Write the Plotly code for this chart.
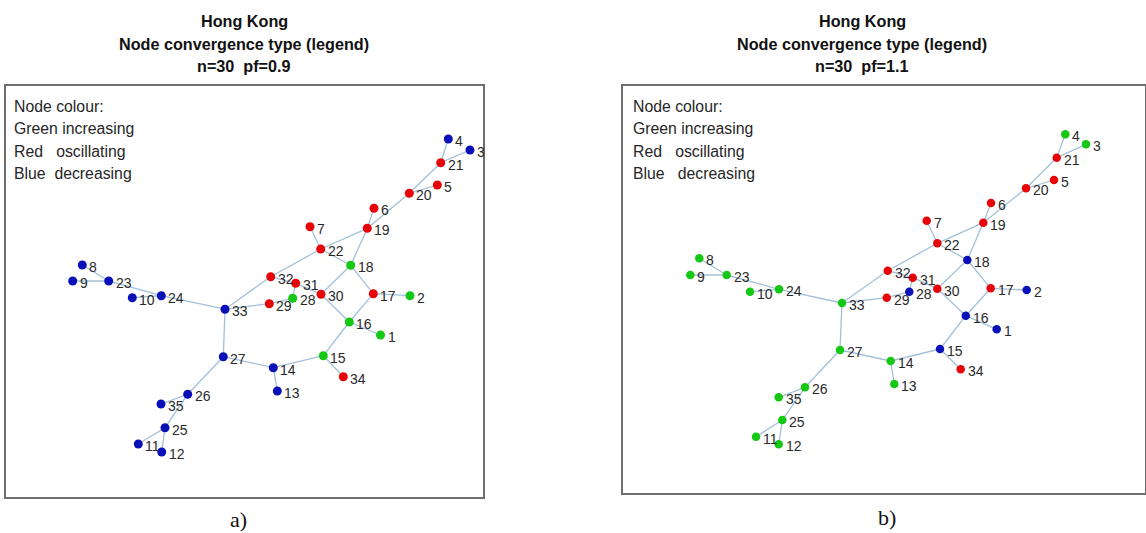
import plotly.graph_objects as go

W, H = 1146, 533

# ---- data ----
node_ids = [1, 2, 3, 4, 5, 6, 7, 8, 9, 10, 11, 12, 13, 14, 15, 16, 17, 18,
            19, 20, 21, 22, 23, 24, 25, 26, 27, 28, 29, 30, 31, 32, 33, 34, 35]

# node layout positions, panel a (pf=0.9)
pos_a_x = [380.5, 410, 470, 448.3, 437.3, 374, 310, 82.3, 72.7, 132.3, 138.3, 161.7,
           277.3, 273.3, 323.3, 349.3, 373.3, 350.7, 367.3, 409.3, 440.7, 320.7,
           108.7, 161.3, 165, 187.7, 223.3, 292.7, 269.3, 321, 295.7, 270.7, 225,
           343.3, 161]
pos_a_y = [335, 295.7, 150, 139, 185, 208.3, 226.7, 265, 281, 297.7, 444, 452,
           391, 367.7, 355.7, 322, 293.7, 265.3, 228.3, 193.3, 162.7, 249,
           281, 295.7, 427.7, 394.3, 356.7, 298.3, 303.7, 294.3, 283.3, 276.7, 309.2,
           376.7, 404]

# node layout positions, panel b (pf=1.1)
pos_b_x = [996.7, 1026.7, 1086, 1065.3, 1054, 991, 926.7, 699.3, 690.3, 750, 756, 778.7,
           894.3, 890.7, 940, 965.8, 990.7, 967.3, 983.3, 1026, 1056.7, 937.3,
           726.7, 779, 782.3, 805, 840, 909.3, 886.7, 937.3, 912.7, 887.7, 842,
           960.7, 778.7]
pos_b_y = [329.3, 290, 144.3, 134.3, 180, 203, 220.7, 258.3, 275, 291.7, 436.7, 444.3,
           384, 361, 349, 315.7, 288.3, 260, 222.7, 188.3, 157.7, 243.3,
           275, 289.3, 420, 387.3, 350, 291.7, 297.7, 288.7, 277.7, 270.7, 303,
           369.3, 397.3]

edges = [(4, 21), (3, 21), (21, 20), (20, 5), (20, 19), (19, 6), (19, 22), (19, 18),
         (22, 7), (22, 32), (22, 18), (18, 17), (18, 30), (17, 2), (17, 16), (30, 16),
         (32, 31), (31, 28), (31, 30), (29, 28), (32, 33), (33, 29), (33, 24),
         (24, 10), (24, 23), (23, 8), (23, 9), (33, 27), (27, 14), (14, 13),
         (14, 15), (15, 16), (16, 1), (15, 34), (27, 26), (26, 35), (26, 25),
         (25, 11), (25, 12)]

# convergence type per node: I increasing, O oscillating, D decreasing
type_a = ['I', 'I', 'D', 'D', 'O', 'O', 'O', 'D', 'D', 'D', 'D', 'D', 'D', 'D', 'I', 'I',
          'O', 'I', 'O', 'O', 'O', 'O', 'D', 'D', 'D', 'D', 'D', 'I', 'O', 'O', 'O', 'O',
          'D', 'O', 'D']
type_b = ['D', 'D', 'I', 'I', 'O', 'O', 'O', 'I', 'I', 'I', 'I', 'I', 'I', 'I', 'D', 'D',
          'O', 'D', 'O', 'O', 'O', 'O', 'I', 'I', 'I', 'I', 'I', 'D', 'O', 'O', 'O', 'O',
          'I', 'O', 'I']

title_lines_a = ["Hong Kong", "Node convergence type (legend)", "n=30  pf=0.9"]
title_lines_b = ["Hong Kong", "Node convergence type (legend)", "n=30  pf=1.1"]
legend_lines_a = ["Node colour:", "Green increasing",
                  "Red\u00a0\u00a0 oscillating", "Blue\u00a0 decreasing"]
legend_lines_b = ["Node colour:", "Green increasing",
                  "Red\u00a0\u00a0 oscillating", "Blue\u00a0\u00a0 decreasing"]
panel_labels = ["a)", "b)"]

COLORS = {'I': '#14c814', 'O': '#e60408', 'D': '#0a10b8'}
EDGE_COLOR = '#a3c0da'
LABEL_FONT = "Arial, Liberation Sans, sans-serif"

fig = go.Figure()


def add_panel(px, py, types, xa, ya, msize):
    idx = {n: i for i, n in enumerate(node_ids)}
    ex, ey = [], []
    for a, b in edges:
        ex += [px[idx[a]], px[idx[b]], None]
        ey += [py[idx[a]], py[idx[b]], None]
    fig.add_trace(go.Scatter(x=ex, y=ey, mode='lines', xaxis=xa, yaxis=ya,
                             line=dict(color=EDGE_COLOR, width=1.3),
                             hoverinfo='skip', showlegend=False))
    for t in ['I', 'O', 'D']:
        xs = [px[i] for i in range(len(node_ids)) if types[i] == t]
        ys = [py[i] for i in range(len(node_ids)) if types[i] == t]
        fig.add_trace(go.Scatter(x=xs, y=ys, mode='markers', xaxis=xa, yaxis=ya,
                                 marker=dict(color=COLORS[t], size=msize, line=dict(width=0)),
                                 showlegend=False))
    for i, n in enumerate(node_ids):
        fig.add_annotation(x=px[i], y=py[i], xref=xa, yref=ya, text=str(n),
                           showarrow=False, xanchor='left', yanchor='middle',
                           xshift=5, yshift=-2,
                           font=dict(family=LABEL_FONT, size=14, color='#2a2a2a'))


add_panel(pos_a_x, pos_a_y, type_a, 'x', 'y', 9)
add_panel(pos_b_x, pos_b_y, type_b, 'x2', 'y2', 8.5)

# box frames (pixel-aligned axes)
ax_common = dict(showgrid=False, zeroline=False, showticklabels=False, ticks='',
                 showline=True, mirror=True, linecolor='#6e6e6e', linewidth=1.5)
fig.update_layout(
    width=W, height=H, autosize=False,
    margin=dict(l=0, r=0, t=0, b=0),
    paper_bgcolor='white', plot_bgcolor='white',
    xaxis=dict(domain=[6 / W, 483 / W], range=[6, 483], **ax_common),
    yaxis=dict(domain=[1 - 497 / H, 1 - 86 / H], range=[497, 86], **ax_common),
    xaxis2=dict(domain=[623 / W, 1145 / W], range=[623, 1145], anchor='y2', **ax_common),
    yaxis2=dict(domain=[1 - 493 / H, 1 - 86 / H], range=[493, 86], anchor='x2', **ax_common),
)

# titles
for cx, lines in [(244, title_lines_a), (862, title_lines_b)]:
    for k, (line, ty) in enumerate(zip(lines, [21, 44, 66])):
        fig.add_annotation(x=cx / W, y=1 - ty / H, xref='paper', yref='paper',
                           text=f"<b>{line}</b>", showarrow=False,
                           xanchor='center', yanchor='middle',
                           font=dict(family=LABEL_FONT, size=16.2, color='#111111'))

# legend text inside boxes
for lx, lines in [(12, legend_lines_a), (631, legend_lines_b)]:
    for line, ty in zip(lines, [106, 128.5, 151, 173.5]):
        fig.add_annotation(x=lx / W, y=1 - ty / H, xref='paper', yref='paper',
                           text=line, showarrow=False,
                           xanchor='left', yanchor='middle',
                           font=dict(family=LABEL_FONT, size=15.8, color='#262626'))

# panel labels
for cx, cy, lab in [(238, 519, panel_labels[0]), (887, 517, panel_labels[1])]:
    fig.add_annotation(x=cx / W, y=1 - cy / H, xref='paper', yref='paper',
                       text=lab, showarrow=False, xanchor='center', yanchor='middle',
                       font=dict(family="Liberation Serif, Times New Roman, serif",
                                 size=22, color='#111111'))

fig.write_html("out.html")
